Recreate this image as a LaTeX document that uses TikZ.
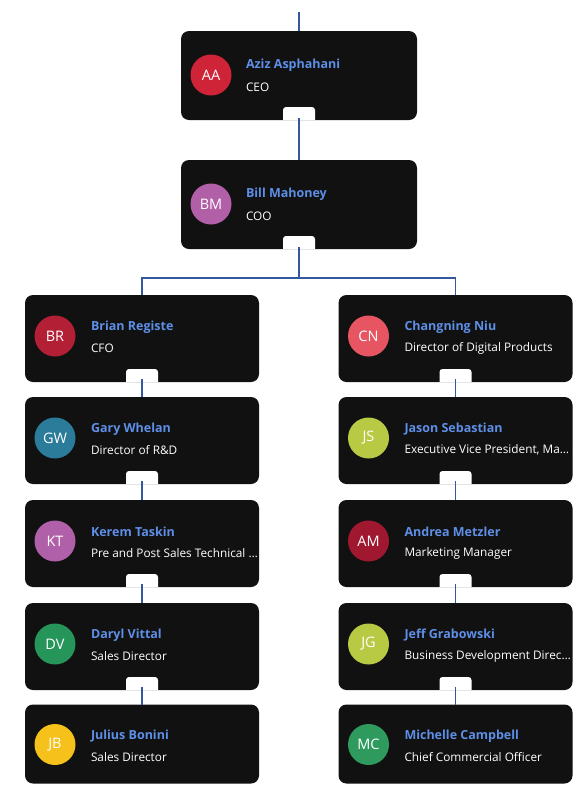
\documentclass[tikz,border=0pt]{standalone}
\usepackage{fontspec}
\setmainfont{Open Sans}
\definecolor{cardbg}{HTML}{111112}
\definecolor{namebl}{HTML}{5E8FE6}
\definecolor{linkbl}{HTML}{34589E}
\definecolor{cAA}{HTML}{CF2338}
\definecolor{cBM}{HTML}{B160A8}
\definecolor{cBR}{HTML}{B31F35}
\definecolor{cCN}{HTML}{E85562}
\definecolor{cGW}{HTML}{2B7B9B}
\definecolor{cJS}{HTML}{B8C944}
\definecolor{cKT}{HTML}{B060A8}
\definecolor{cAM}{HTML}{A01830}
\definecolor{cDV}{HTML}{259559}
\definecolor{cJG}{HTML}{B8C944}
\definecolor{cJB}{HTML}{F6C11A}
\definecolor{cMC}{HTML}{2F9A5E}
\begin{document}
\begin{tikzpicture}[x=1pt,y=-1pt]
\tikzset{ inner sep=0pt, outer sep=0pt,
  card/.style={fill=cardbg, rounded corners=8pt, minimum width=234pt, minimum height=87pt},
  bigcard/.style={card, minimum width=236pt, minimum height=89pt},
  lastcard/.style={card, minimum height=79pt},
  notch/.style={path picture={\fill [white, rounded corners=3pt] ([xshift=-16pt,yshift=13pt]path picture bounding box.south) rectangle ([xshift=16pt,yshift=-6pt]path picture bounding box.south);}},
  avatar/.style={circle, minimum size=41pt, text=white, font=\fontsize{14.5}{16}\selectfont},
  who/.style={anchor=west, text=namebl, font=\bfseries\fontsize{12.5}{14}\selectfont},
  role/.style={anchor=west, text=white, font=\fontsize{11.8}{14}\selectfont},
  link/.style={draw=linkbl, line width=1.3pt},
}
\useasboundingbox [fill=white] (0,0) rectangle (588,788);

%\draw [lightgray, dashed] (0,0) grid [step=50] (588,788);

% top two
\node [bigcard, notch] (AA) at (299,75.5)  {};
\node [bigcard, notch] (BM) at (299,204.5) {};

% left column
\node [card, notch] (BR) at (142,338.5) {};
\node [card, notch] (GW) at (142,440.5) {};
\node [card, notch] (KT) at (142,543.5) {};
\node [card, notch] (DV) at (142,646.5) {};
\node [lastcard]    (JB) at (142,744)   {};

% right column
\node [card, notch] (CN) at (455.5,338.5) {};
\node [card, notch] (JS) at (455.5,440.5) {};
\node [card, notch] (AM) at (455.5,543.5) {};
\node [card, notch] (JG) at (455.5,646.5) {};
\node [lastcard]    (MC) at (455.5,744)   {};

\node [avatar, fill=cAA] (AA-c) at ([shift={(30,44)}]AA.north west) {AA};
\node [who]  (AA-n) at ([shift={(65,34)}]AA.north west) {Aziz Asphahani};
\node [role] (AA-r) at ([shift={(65,56)}]AA.north west) {CEO};

\node [avatar, fill=cBM] (BM-c) at ([shift={(30,44)}]BM.north west) {BM};
\node [who]  (BM-n) at ([shift={(65,34)}]BM.north west) {Bill Mahoney};
\node [role] (BM-r) at ([shift={(65,56)}]BM.north west) {COO};

\node [avatar, fill=cBR] (BR-c) at ([shift={(30,41)}]BR.north west) {BR};
\node [who]  (BR-n) at ([shift={(66,32)}]BR.north west) {Brian Registe};
\node [role] (BR-r) at ([shift={(66,53)}]BR.north west) {CFO};

\node [avatar, fill=cGW] (GW-c) at ([shift={(30,41)}]GW.north west) {GW};
\node [who]  (GW-n) at ([shift={(66,32)}]GW.north west) {Gary Whelan};
\node [role] (GW-r) at ([shift={(66,53)}]GW.north west) {Director of R\&D};

\node [avatar, fill=cKT] (KT-c) at ([shift={(30,41)}]KT.north west) {KT};
\node [who]  (KT-n) at ([shift={(66,32)}]KT.north west) {Kerem Taskin};
\node [role] (KT-r) at ([shift={(66,53)}]KT.north west) {Pre and Post Sales Technical …};

\node [avatar, fill=cDV] (DV-c) at ([shift={(30,41)}]DV.north west) {DV};
\node [who]  (DV-n) at ([shift={(66,32)}]DV.north west) {Daryl Vittal};
\node [role] (DV-r) at ([shift={(66,53)}]DV.north west) {Sales Director};

\node [avatar, fill=cJB] (JB-c) at ([shift={(30,40)}]JB.north west) {JB};
\node [who]  (JB-n) at ([shift={(66,32)}]JB.north west) {Julius Bonini};
\node [role] (JB-r) at ([shift={(66,53)}]JB.north west) {Sales Director};

\node [avatar, fill=cCN] (CN-c) at ([shift={(30,41)}]CN.north west) {CN};
\node [who]  (CN-n) at ([shift={(66,32)}]CN.north west) {Changning Niu};
\node [role] (CN-r) at ([shift={(66,53)}]CN.north west) {Director of Digital Products};

\node [avatar, fill=cJS] (JS-c) at ([shift={(30,41)}]JS.north west) {JS};
\node [who]  (JS-n) at ([shift={(66,32)}]JS.north west) {Jason Sebastian};
\node [role] (JS-r) at ([shift={(66,53)}]JS.north west) {Executive Vice President, Ma…};

\node [avatar, fill=cAM] (AM-c) at ([shift={(30,41)}]AM.north west) {AM};
\node [who]  (AM-n) at ([shift={(66,32)}]AM.north west) {Andrea Metzler};
\node [role] (AM-r) at ([shift={(66,53)}]AM.north west) {Marketing Manager};

\node [avatar, fill=cJG] (JG-c) at ([shift={(30,41)}]JG.north west) {JG};
\node [who]  (JG-n) at ([shift={(66,32)}]JG.north west) {Jeff Grabowski};
\node [role] (JG-r) at ([shift={(66,53)}]JG.north west) {Business Development Direc…};

\node [avatar, fill=cMC] (MC-c) at ([shift={(30,40)}]MC.north west) {MC};
\node [who]  (MC-n) at ([shift={(66,32)}]MC.north west) {Michelle Campbell};
\node [role] (MC-r) at ([shift={(66,53)}]MC.north west) {Chief Commercial Officer};

\coordinate (top)   at (299,12);
\coordinate (split) at (299,278);

\draw [link] (top) -- (AA.north);
\draw [link] ([yshift=2pt]AA.south) -- (BM.north);
\draw [link] ([yshift=2pt]BM.south) -- (split);
\draw [link] (split) -| (BR.north);
\draw [link] (split) -| (CN.north);

\draw [link] ([yshift=3pt]BR.south) -- (GW.north);
\draw [link] ([yshift=3pt]GW.south) -- (KT.north);
\draw [link] ([yshift=3pt]KT.south) -- (DV.north);
\draw [link] ([yshift=3pt]DV.south) -- (JB.north);

\draw [link] ([yshift=3pt]CN.south) -- (JS.north);
\draw [link] ([yshift=3pt]JS.south) -- (AM.north);
\draw [link] ([yshift=3pt]AM.south) -- (JG.north);
\draw [link] ([yshift=3pt]JG.south) -- (MC.north);

\end{tikzpicture}
\end{document}
